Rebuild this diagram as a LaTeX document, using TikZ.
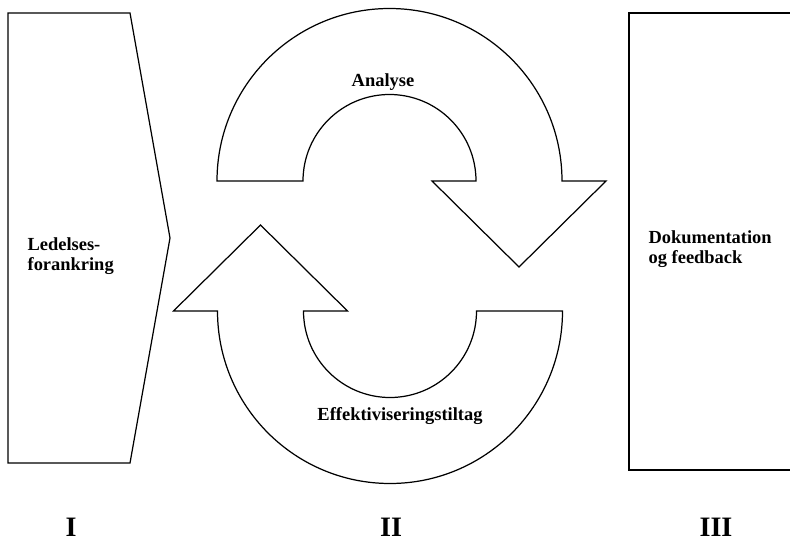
\documentclass[tikz,border=0pt]{standalone}
\usepackage{fontspec}
\setmainfont{Liberation Serif}
\usepackage{tikz}
\usetikzlibrary{positioning}
\newcommand{\ringarrow}{\draw[fill=white] (-3.45,0) arc[start angle=180, end angle=0, radius=3.45] -- (4.33,0) -- (2.59,-1.72) -- (0.85,0) -- (1.73,0) arc[start angle=0, end angle=180, radius=1.73] -- cycle;}
\tikzset{
	label text/.style = {font=\bfseries\fontsize{10.5pt}{11pt}\selectfont, inner sep=0pt},
	phase text/.style = {font=\bfseries\fontsize{16pt}{18pt}\selectfont, inner sep=0pt, anchor=base}
}

\begin{document}
\begin{tikzpicture}[line width=0.7pt, line join=miter]

					\useasboundingbox (0,0) rectangle (15.8,10.82);

					\draw[fill=white] (0.16,10.56) -- (2.6,10.56) -- (3.4,6.06) -- (2.6,1.56) -- (0.16,1.56) -- cycle;

					\draw[fill=white] (16,10.56) -- (12.58,10.56) -- (12.58,1.42) -- (16,1.42);

					\begin{scope}[xshift = 7.79cm, yshift = 7.2cm, rotate = 0]
						\ringarrow
					\end{scope}

					\begin{scope}[xshift = 7.8cm, yshift = 4.6cm, rotate = 180]
						\ringarrow
					\end{scope}

					\node[label text, anchor=west, align=left] (ledelse) at (0.54,5.7) {Ledelses-\\forankring};
					\node[label text, anchor=west, align=left] (dokumentation) at (12.96,5.84) {Dokumentation\\og feedback};
					\node[label text, anchor=base] (analyse) at (7.66,9.08) {Analyse};
					\node[label text, anchor=base] (tiltag) at (8.0,2.42) {Effektiviseringstiltag};

					\node[phase text] (fase1) at (1.42,0.1) {I};
					\node[phase text] (fase2) at (7.82,0.1) {II};
					\node[phase text] (fase3) at (14.32,0.1) {III};

\end{tikzpicture}
\end{document}
